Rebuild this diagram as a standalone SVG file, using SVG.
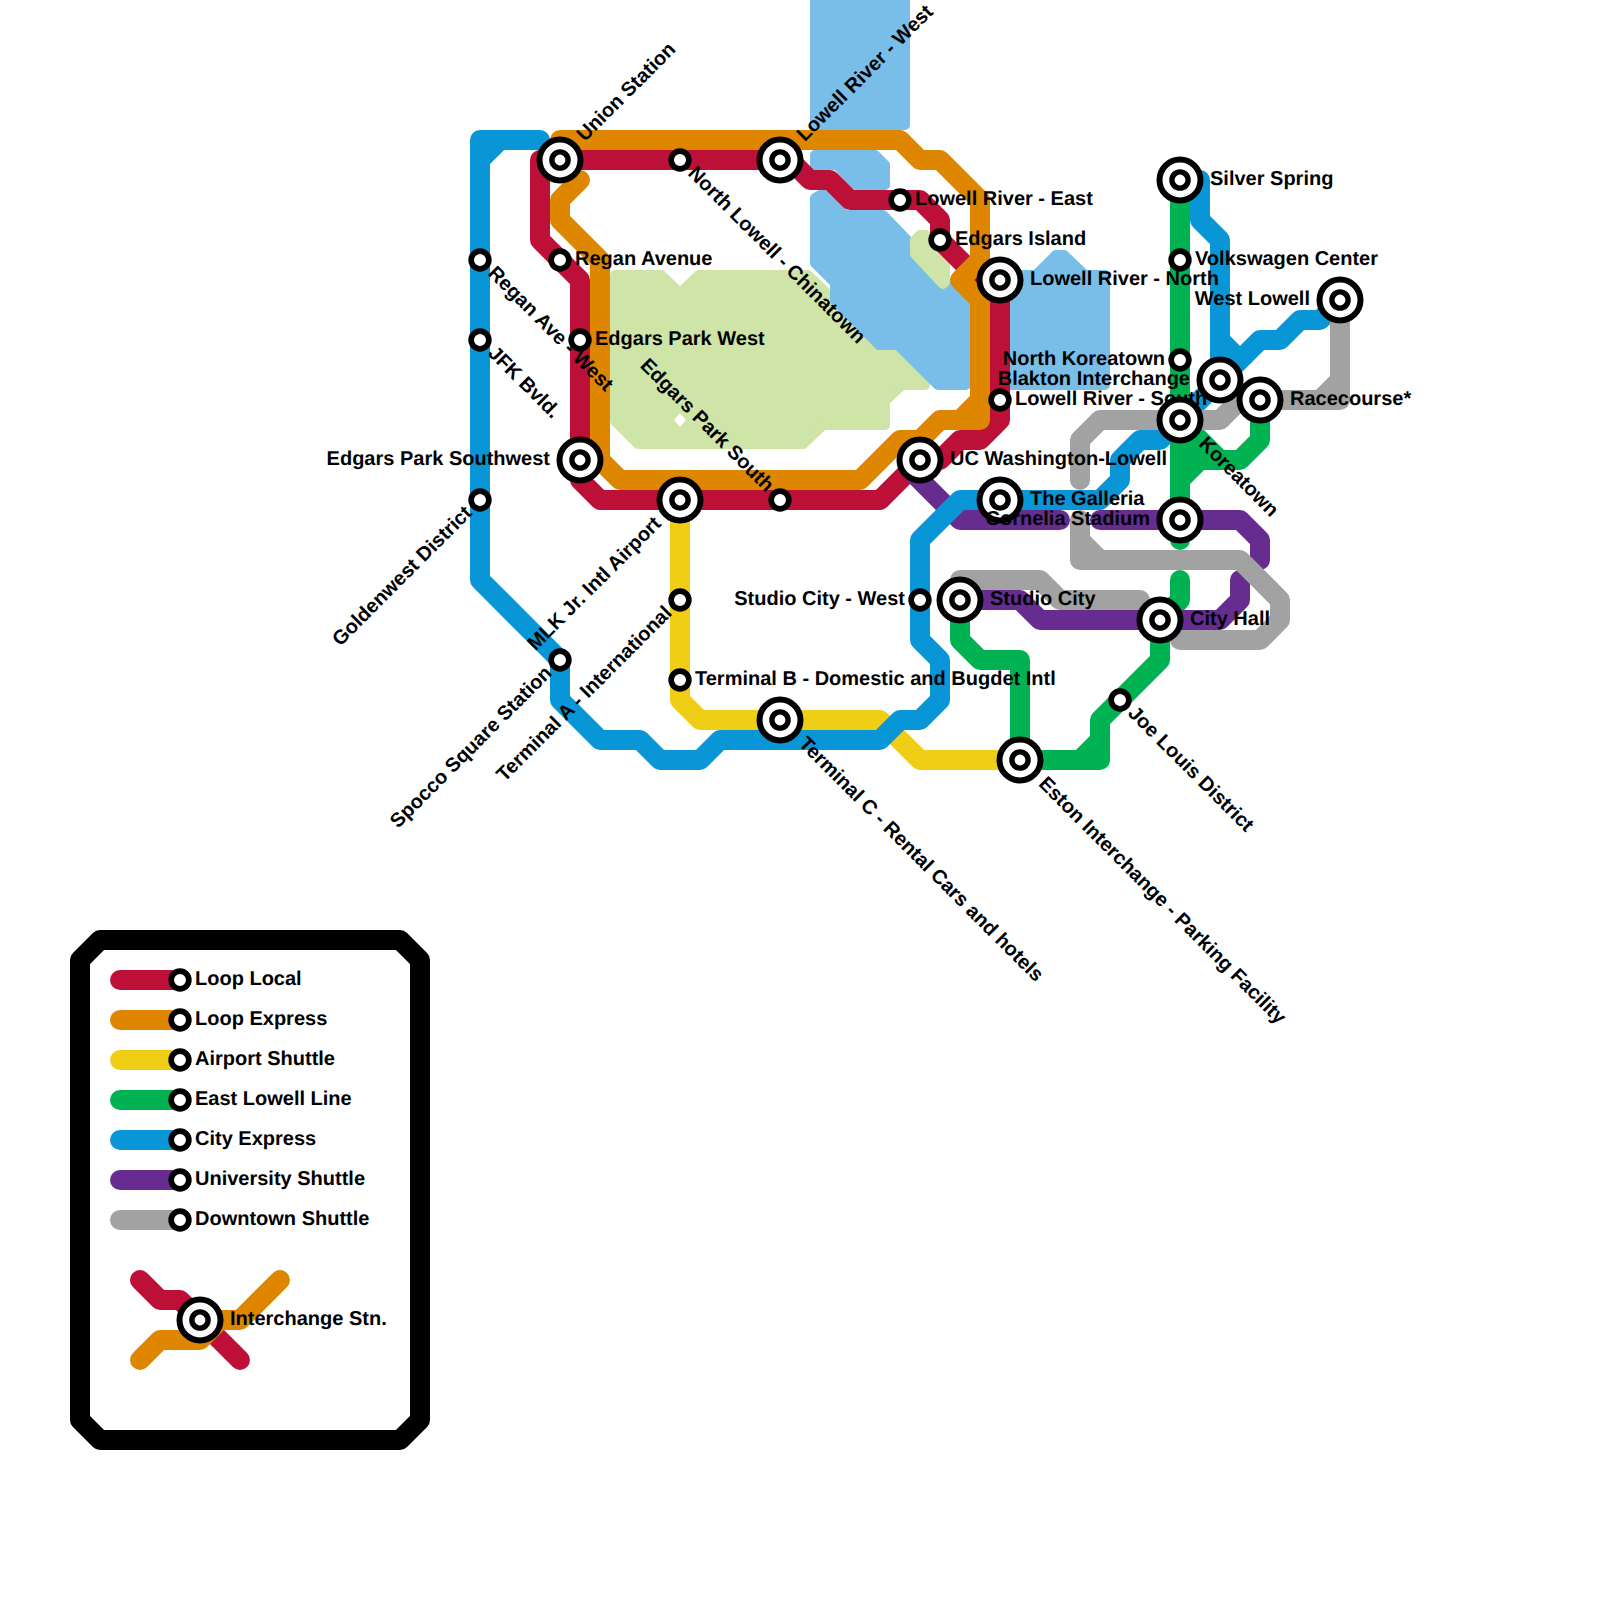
<svg xmlns="http://www.w3.org/2000/svg" width="1600" height="1600" viewBox="0 0 1600 1600">
<style>
text{font-family:"Liberation Sans",Arial,sans-serif;font-weight:bold;font-size:20px;fill:#000;text-rendering:geometricPrecision}
.e{text-anchor:end}
.l{fill:none;stroke-width:20;stroke-linecap:round;stroke-linejoin:round}
.red{stroke:#bd1038}.org{stroke:#df8600}.yel{stroke:#f0ce15}.grn{stroke:#00b251}.blu{stroke:#0896d7}.pur{stroke:#662c90}.gry{stroke:#a2a2a2}
.water{fill:#79bde9;stroke:#79bde9;stroke-width:10;stroke-linejoin:round}
.park{fill:#cfe4a7;stroke:#cfe4a7;stroke-width:10;stroke-linejoin:round}
.o{fill:#fff;stroke:#000;stroke-width:6}
.c{fill:#fff;stroke:#000;stroke-width:5.4}
.i{fill:#fff;stroke:#000;stroke-width:5.7}
</style>
<rect width="1600" height="1600" fill="#fff"/>
<g id="terrain">
<polygon class="park" points="615,275 661,275 680,293 699,275 808,275 880,345 898,345 925,372 925,385 902,385 885,401 885,425 823,425 803,444 638,444 615,421"/>
<polygon points="680,413 686,420 680,427 674,420" fill="#fff"/>
<polygon class="water" points="815,-10 905,-10 905,125 815,125"/>
<polygon class="water" points="815,155 875,155 885,165 885,185 856,185 837,165 815,165"/>
<polygon class="water" points="815,198 820,195 825,195 845,215 883,215 950,285 958,294 975,310 975,380 965,385 938,385 898,345 879,345 835,300 835,283 815,263"/>
<polygon class="water" points="1000,275 1036,275 1056,255 1064,255 1085,275 1105,275 1105,385 1000,385"/>
<polygon class="park" points="915,240 920,235 926,235 945,256 945,282 943,284 915,254"/>
</g>
<g id="connectors">
<path class="l red" d="M790 160H540V240L580 280V480L600 500H880L920 460H940L960 440H980L1000 420V280H980L940 240V220L920 200H850L830 180H810Z"/>
<path class="l org" d="M560 140H900L920 160H940L980 200V260L960 280L980 300V420H940L920 440H900L860 480H620L600 460V260L560 220V200L580 180M980 400L960 420"/>
<path class="l yel" d="M680 500V700L700 720H880L920 760H1020"/>
<path class="l grn" d="M1180 180V540M1180 580V600L1160 620V660L1100 720V760H1020V660H980L960 640V600M1100 740L1080 760M1180 420L1220 460H1240L1260 440V400M1180 480L1200 460H1220M1180 450H1205"/>
<path class="l pur" d="M915 475L960 520H1060M1100 520H1240L1260 540V560M1240 580V600L1220 620H1040L1020 600H960"/>
<path class="l blu" d="M540 140H480V580L560 660V700L600 740H640L660 760H700L720 740H880L900 720H920L940 700V660L920 640V540L960 500H1100L1120 480V460L1140 440H1160L1220 380V240L1200 220V180H1180M480 160L500 140M1220 340L1240 360M1220 380L1260 340H1280L1300 320H1320L1340 300"/>
<path class="l gry" d="M1080 480V440L1100 420H1220L1240 400H1340V300M1320 400L1340 380M1080 520V560H1240L1280 600V620L1260 640H1180M1080 540L1100 560M960 580H1040L1060 600H1140"/>
</g>
<g id="st-union"><circle class="o" cx="560" cy="160" r="20.5"/><circle class="c" cx="560" cy="160" r="8.1"/><text transform="translate(560 160) rotate(-45)" x="30" y="5">Union Station</text></g>
<g id="st-north-lowell"><circle class="i" cx="680" cy="160" r="8.85"/><text transform="translate(680 160) rotate(45)" x="15" y="5">North Lowell - Chinatown</text></g>
<g id="st-lowell-west"><circle class="o" cx="780" cy="160" r="20.5"/><circle class="c" cx="780" cy="160" r="8.1"/><text transform="translate(780 160) rotate(-45)" x="30" y="5">Lowell River - West</text></g>
<g id="st-lowell-east"><circle class="i" cx="900" cy="200" r="8.85"/><text x="915" y="205">Lowell River - East</text></g>
<g id="st-edgars-island"><circle class="i" cx="940" cy="240" r="8.85"/><text x="955" y="245">Edgars Island</text></g>
<g id="st-regan-avenue"><circle class="i" cx="560" cy="260" r="8.85"/><text x="575" y="265">Regan Avenue</text></g>
<g id="st-regan-west"><circle class="i" cx="480" cy="260" r="8.85"/><text transform="translate(480 260) rotate(45)" x="15" y="5">Regan Ave - West</text></g>
<g id="st-jfk"><circle class="i" cx="480" cy="340" r="8.85"/><text transform="translate(480 340) rotate(45)" x="15" y="5">JFK Bvld.</text></g>
<g id="st-edgars-west"><circle class="i" cx="580" cy="340" r="8.85"/><text x="595" y="345">Edgars Park West</text></g>
<g id="st-edgars-sw"><circle class="o" cx="580" cy="460" r="20.5"/><circle class="c" cx="580" cy="460" r="8.1"/><text class="e" x="550" y="465">Edgars Park Southwest</text></g>
<g id="st-goldenwest"><circle class="i" cx="480" cy="500" r="8.85"/><text class="e" transform="translate(480 500) rotate(-45)" x="-15" y="5">Goldenwest District</text></g>
<g id="st-mlk"><circle class="o" cx="680" cy="500" r="20.5"/><circle class="c" cx="680" cy="500" r="8.1"/><text class="e" transform="translate(680 500) rotate(-45)" x="-30" y="5">MLK Jr. Intl Airport</text></g>
<g id="st-edgars-south"><circle class="i" cx="780" cy="500" r="8.85"/><text class="e" transform="translate(780 500) rotate(45)" x="-15" y="5">Edgars Park South</text></g>
<g id="st-uc"><circle class="o" cx="920" cy="460" r="20.5"/><circle class="c" cx="920" cy="460" r="8.1"/><text x="950" y="465">UC Washington-Lowell</text></g>
<g id="st-galleria"><circle class="o" cx="1000" cy="500" r="20.5"/><circle class="c" cx="1000" cy="500" r="8.1"/><text x="1030" y="505">The Galleria</text></g>
<g id="st-lowell-north"><circle class="o" cx="1000" cy="280" r="20.5"/><circle class="c" cx="1000" cy="280" r="8.1"/><text x="1030" y="285">Lowell River - North</text></g>
<g id="st-lowell-south"><circle class="i" cx="1000" cy="400" r="8.85"/><text x="1015" y="405">Lowell River - South</text></g>
<g id="st-silver"><circle class="o" cx="1180" cy="180" r="20.5"/><circle class="c" cx="1180" cy="180" r="8.1"/><text x="1210" y="185">Silver Spring</text></g>
<g id="st-vw"><circle class="i" cx="1180" cy="260" r="8.85"/><text x="1195" y="265">Volkswagen Center</text></g>
<g id="st-west-lowell"><circle class="o" cx="1340" cy="300" r="20.5"/><circle class="c" cx="1340" cy="300" r="8.1"/><text class="e" x="1310" y="305">West Lowell</text></g>
<g id="st-north-korea"><circle class="i" cx="1180" cy="360" r="8.85"/><text class="e" x="1165" y="365">North Koreatown</text></g>
<g id="st-blakton"><circle class="o" cx="1220" cy="380" r="20.5"/><circle class="c" cx="1220" cy="380" r="8.1"/><text class="e" x="1190" y="385">Blakton Interchange</text></g>
<g id="st-racecourse"><circle class="o" cx="1260" cy="400" r="20.5"/><circle class="c" cx="1260" cy="400" r="8.1"/><text x="1290" y="405">Racecourse*</text></g>
<g id="st-koreatown"><circle class="o" cx="1180" cy="420" r="20.5"/><circle class="c" cx="1180" cy="420" r="8.1"/><text transform="translate(1180 420) rotate(45)" x="30" y="5">Koreatown</text></g>
<g id="st-cornelia"><circle class="o" cx="1180" cy="520" r="20.5"/><circle class="c" cx="1180" cy="520" r="8.1"/><text class="e" x="1150" y="525">Cornelia Stadium</text></g>
<g id="st-studio-west"><circle class="i" cx="920" cy="600" r="8.85"/><text class="e" x="905" y="605">Studio City - West</text></g>
<g id="st-studio"><circle class="o" cx="960" cy="600" r="20.5"/><circle class="c" cx="960" cy="600" r="8.1"/><text x="990" y="605">Studio City</text></g>
<g id="st-city-hall"><circle class="o" cx="1160" cy="620" r="20.5"/><circle class="c" cx="1160" cy="620" r="8.1"/><text x="1190" y="625">City Hall</text></g>
<g id="st-term-a"><circle class="i" cx="680" cy="600" r="8.85"/><text class="e" transform="translate(680 600) rotate(-45)" x="-15" y="5">Terminal A - International</text></g>
<g id="st-term-b"><circle class="i" cx="680" cy="680" r="8.85"/><text x="695" y="685">Terminal B - Domestic and Bugdet Intl</text></g>
<g id="st-term-c"><circle class="o" cx="780" cy="720" r="20.5"/><circle class="c" cx="780" cy="720" r="8.1"/><text transform="translate(780 720) rotate(45)" x="30" y="5">Terminal C - Rental Cars and hotels</text></g>
<g id="st-spocco"><circle class="i" cx="560" cy="660" r="8.85"/><text class="e" transform="translate(560 660) rotate(-45)" x="-15" y="5">Spocco Square Station</text></g>
<g id="st-joe"><circle class="i" cx="1120" cy="700" r="8.85"/><text transform="translate(1120 700) rotate(45)" x="15" y="5">Joe Louis District</text></g>
<g id="st-eston"><circle class="o" cx="1020" cy="760" r="20.5"/><circle class="c" cx="1020" cy="760" r="8.1"/><text transform="translate(1020 760) rotate(45)" x="30" y="5">Eston Interchange - Parking Facility</text></g>
<g id="legend">
<path d="M100 940H400L420 960V1420L400 1440H100L80 1420V960Z" fill="none" stroke="#000" stroke-width="20" stroke-linejoin="round"/>
<path class="l red" d="M120 980H180"/><circle class="i" cx="180" cy="980" r="8.85"/><text x="195" y="985">Loop Local</text>
<path class="l org" d="M120 1020H180"/><circle class="i" cx="180" cy="1020" r="8.85"/><text x="195" y="1025">Loop Express</text>
<path class="l yel" d="M120 1060H180"/><circle class="i" cx="180" cy="1060" r="8.85"/><text x="195" y="1065">Airport Shuttle</text>
<path class="l grn" d="M120 1100H180"/><circle class="i" cx="180" cy="1100" r="8.85"/><text x="195" y="1105">East Lowell Line</text>
<path class="l blu" d="M120 1140H180"/><circle class="i" cx="180" cy="1140" r="8.85"/><text x="195" y="1145">City Express</text>
<path class="l pur" d="M120 1180H180"/><circle class="i" cx="180" cy="1180" r="8.85"/><text x="195" y="1185">University Shuttle</text>
<path class="l gry" d="M120 1220H180"/><circle class="i" cx="180" cy="1220" r="8.85"/><text x="195" y="1225">Downtown Shuttle</text>
<path class="l red" d="M140 1280L160 1300H180L240 1360"/>
<path class="l org" d="M140 1360L160 1340H200L220 1320H240L280 1280"/>
<circle class="o" cx="200" cy="1320" r="20.5"/><circle class="c" cx="200" cy="1320" r="8.1"/><text x="230" y="1325">Interchange Stn.</text>
</g>
</svg>
